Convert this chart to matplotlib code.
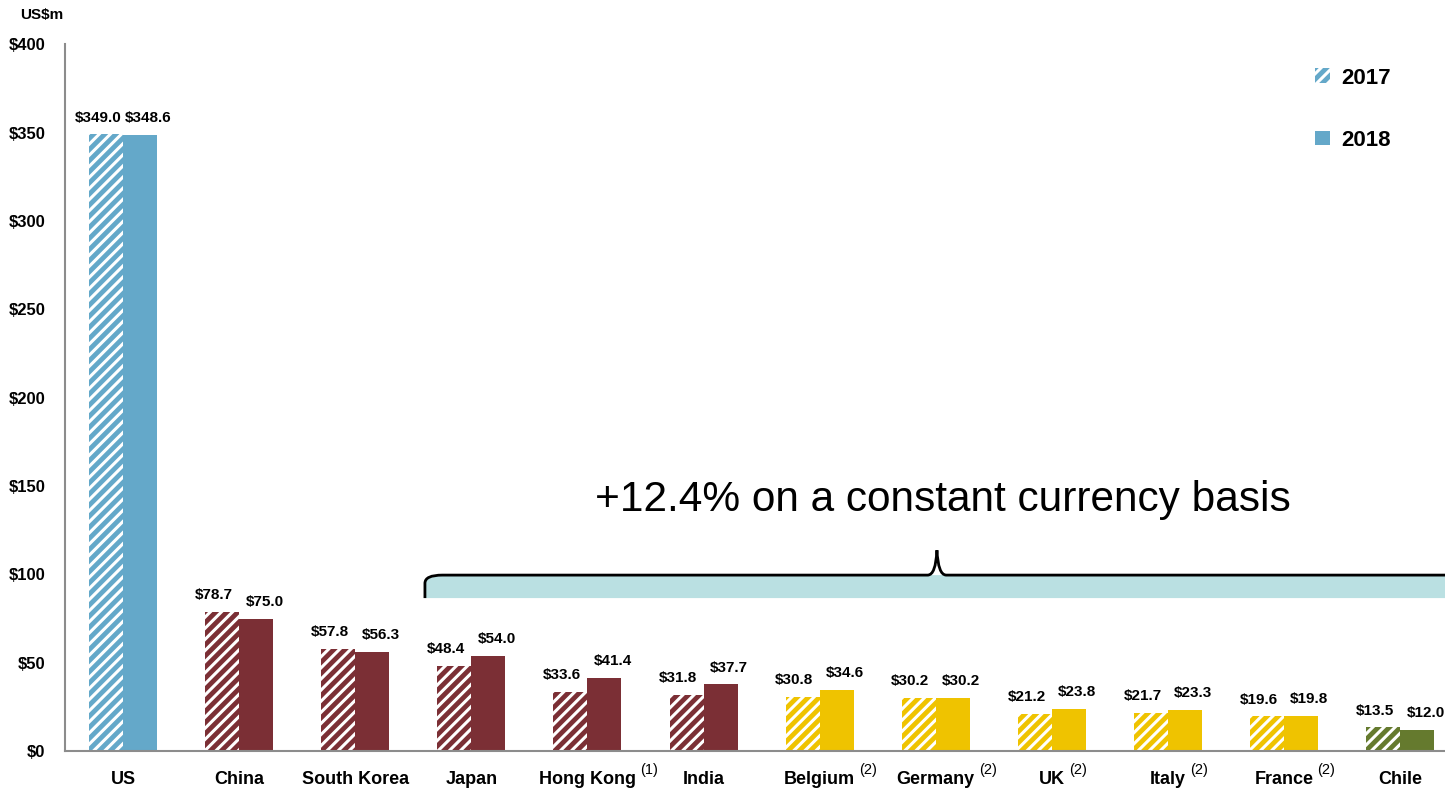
import matplotlib.pyplot as plt
from matplotlib.patches import Patch, PathPatch
from matplotlib.path import Path
import numpy as np

plt.rcParams['font.family'] = ['Liberation Sans', 'DejaVu Sans']
plt.rcParams['hatch.linewidth'] = 2.2

# revenue by market, US$m
countries = ['US', 'China', 'South Korea', 'Japan', 'Hong Kong', 'India',
             'Belgium', 'Germany', 'UK', 'Italy', 'France', 'Chile']
notes = ['', '', '', '', '(1)', '', '(2)', '(2)', '(2)', '(2)', '(2)', '']
rev_2017 = [349.0, 78.7, 57.8, 48.4, 33.6, 31.8, 30.8, 30.2, 21.2, 21.7, 19.6, 13.5]
rev_2018 = [348.6, 75.0, 56.3, 54.0, 41.4, 37.7, 34.6, 30.2, 23.8, 23.3, 19.8, 12.0]
regions = ['americas', 'asia', 'asia', 'asia', 'asia', 'asia',
           'europe', 'europe', 'europe', 'europe', 'europe', 'latam']
yticks = [0, 50, 100, 150, 200, 250, 300, 350, 400]

region_colors = {'americas': '#64A8C9', 'asia': '#7B2F35',
                 'europe': '#EFC300', 'latam': '#657A2E'}
colors = [region_colors[r] for r in regions]

fig = plt.figure(figsize=(14.45, 7.89), dpi=100)
ax = fig.add_axes([0.045, 0.048, 0.955, 0.896])

x = np.arange(len(countries))
w = 0.293

bars17 = ax.bar(x - w / 2, rev_2017, w, color=colors, hatch='///',
                edgecolor='white', linewidth=0)
bars18 = ax.bar(x + w / 2, rev_2018, w, color=colors, linewidth=0)

# value labels
for b, v in zip(bars17, rev_2017):
    ax.annotate(f'${v:.1f}', (b.get_x() + b.get_width() / 2, v),
                xytext=(-6, 7), textcoords='offset points',
                ha='center', va='bottom', fontsize=11, fontweight='bold')
for b, v in zip(bars18, rev_2018):
    ax.annotate(f'${v:.1f}', (b.get_x() + b.get_width() / 2, v),
                xytext=(6, 7), textcoords='offset points',
                ha='center', va='bottom', fontsize=11, fontweight='bold')

ax.set_ylim(0, 400)
ax.set_xlim(-0.5, 11.386)
ax.set_yticks(yticks)
ax.set_yticklabels([f'${t}' for t in yticks], fontsize=12, fontweight='bold')
ax.set_xticks(x)
ax.set_xticklabels(countries, fontsize=13, fontweight='bold')
ax.tick_params(axis='both', length=0)
ax.tick_params(axis='x', pad=14)
ax.tick_params(axis='y', pad=14)
for s in ['top', 'right']:
    ax.spines[s].set_visible(False)
for s in ['left', 'bottom']:
    ax.spines[s].set_color('#8C8C8C')
    ax.spines[s].set_linewidth(1.5)

fig.text(0.014, 0.981, 'US$m', fontsize=11, fontweight='bold', va='center')

# footnote markers after the country names
fig.canvas.draw()
renderer = fig.canvas.get_renderer()
inv = fig.transFigure.inverted()
for lbl, note in zip(ax.get_xticklabels(), notes):
    if not note:
        continue
    bb = lbl.get_window_extent(renderer)
    px, py = inv.transform((bb.x1 + 4, bb.y1 + 1))
    fig.text(px, py, note, fontsize=10.5, ha='left', va='center')

# bracket over the non-US markets
x0, x1, peak = 2.6, 12.5, 7.01
y_lo, y_hi, y_top = 86.6, 99.6, 113.7
band = Path([(x0, y_lo), (x0, 95), (x0, y_hi), (x0 + 0.15, y_hi),
             (x1, y_hi), (x1, y_lo), (x0, y_lo)],
            [Path.MOVETO, Path.LINETO, Path.CURVE3, Path.CURVE3,
             Path.LINETO, Path.LINETO, Path.CLOSEPOLY])
ax.add_patch(PathPatch(band, facecolor='#BAE0E2', edgecolor='none'))
brace = Path([(x0, y_lo), (x0, 95), (x0, y_hi), (x0 + 0.15, y_hi),
              (peak - 0.08, y_hi), (peak - 0.01, y_hi), (peak, y_top),
              (peak + 0.01, y_hi), (peak + 0.08, y_hi), (x1, y_hi)],
             [Path.MOVETO, Path.LINETO, Path.CURVE3, Path.CURVE3,
              Path.LINETO, Path.CURVE3, Path.CURVE3, Path.CURVE3,
              Path.CURVE3, Path.LINETO])
ax.add_patch(PathPatch(brace, facecolor='none', edgecolor='black', linewidth=2))

ax.text(7.06, 142, '+12.4% on a constant currency basis', fontsize=30.5,
        ha='center', va='center')

handles = [Patch(facecolor='#64A8C9', hatch='///', edgecolor='white', linewidth=0),
           Patch(facecolor='#64A8C9', linewidth=0)]
leg = ax.legend(handles, ['2017', '2018'], loc='upper right',
                bbox_to_anchor=(0.975, 0.995), frameon=False,
                prop={'size': 16, 'weight': 'bold'}, labelspacing=1.85,
                handlelength=0.65, handleheight=0.65, handletextpad=0.5)

fig.savefig('out.png', dpi=100)
